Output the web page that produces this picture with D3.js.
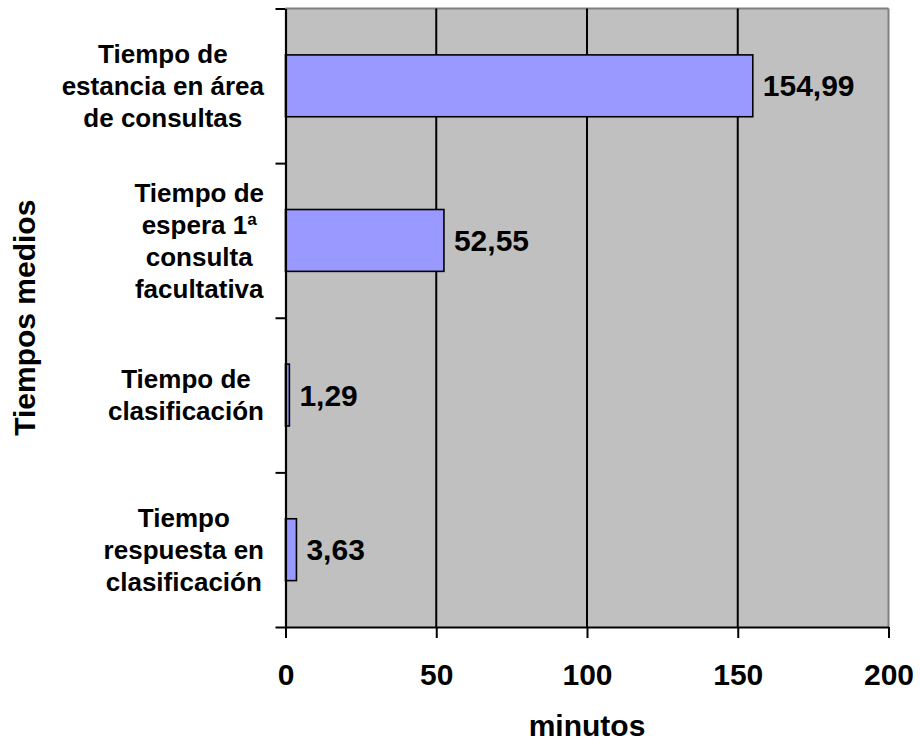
<!DOCTYPE html>
<html>
<head>
<meta charset="utf-8">
<script src="https://cdnjs.cloudflare.com/ajax/libs/d3/7.8.5/d3.min.js"></script>
<style>
  html, body { margin: 0; padding: 0; background: #fff; }
  svg { display: block; }
  text { font-family: "Liberation Sans", Arial, sans-serif; font-weight: bold; fill: #000; }
</style>
</head>
<body>
<svg id="chart" width="920" height="749"></svg>
<script>
// ---- data ----
const categories = [
  ["Tiempo de", "estancia en área", "de consultas"],
  ["Tiempo de", "espera 1ª", "consulta", "facultativa"],
  ["Tiempo de", "clasificación"],
  ["Tiempo", "respuesta en", "clasificación"]
];
const values = [154.99, 52.55, 1.29, 3.63];
const xTicks = [0, 50, 100, 150, 200];
const xTitle = "minutos";
const yTitle = "Tiempos medios";

// ---- layout ----
const pL = 285.5, pR = 888.5, pT = 8.5, pB = 627;
const svg = d3.select("#chart");

const x = d3.scaleLinear().domain([0, 200]).range([pL, pR]);
const idx = d3.range(categories.length);
const y = d3.scaleBand().domain(idx).range([pT, pB]).paddingInner(0.6).paddingOuter(0.3);
const yB = d3.scaleLinear().domain([0, categories.length]).range([pT, pB]);

const esLocale = d3.formatLocale({decimal: ",", thousands: ".", grouping: [3], currency: ["", " €"]});
const fmt = esLocale.format(".2f");

// plot background
svg.append("rect")
  .attr("x", pL).attr("y", pT)
  .attr("width", pR - pL).attr("height", pB - pT)
  .attr("fill", "#C0C0C0");

// top & right gray border
svg.append("line").attr("x1", pL).attr("x2", pR).attr("y1", pT).attr("y2", pT)
  .attr("stroke", "#808080").attr("stroke-width", 2);
svg.append("line").attr("x1", pR).attr("x2", pR).attr("y1", pT).attr("y2", pB)
  .attr("stroke", "#808080").attr("stroke-width", 2);

// gridlines
svg.append("g").selectAll("line")
  .data(xTicks.filter(t => t > 0 && t < 200))
  .join("line")
  .attr("x1", d => x(d)).attr("x2", d => x(d))
  .attr("y1", pT).attr("y2", pB)
  .attr("stroke", "#000").attr("stroke-width", 2);

// bars
svg.append("g").selectAll("rect")
  .data(values)
  .join("rect")
  .attr("x", x(0))
  .attr("y", (d, i) => y(i))
  .attr("width", d => x(d) - x(0))
  .attr("height", y.bandwidth())
  .attr("fill", "#9999FF")
  .attr("stroke", "#000")
  .attr("stroke-width", 1.6);

// value labels
svg.append("g").selectAll("text")
  .data(values)
  .join("text")
  .attr("x", d => x(d) + 10)
  .attr("y", (d, i) => y(i) + y.bandwidth() / 2)
  .attr("dy", "0.35em")
  .attr("font-size", 30)
  .text(d => fmt(d));

// x axis
const xAxis = svg.append("g")
  .attr("transform", `translate(0,${pB})`)
  .call(d3.axisBottom(x).tickValues(xTicks).tickSize(11).tickPadding(26).tickSizeOuter(0));
xAxis.select(".domain").attr("stroke", "#000").attr("stroke-width", 2.2);
xAxis.selectAll(".tick line").attr("stroke", "#000").attr("stroke-width", 2);
xAxis.selectAll(".tick text").attr("font-size", 30)
  .attr("font-family", "Liberation Sans, Arial, sans-serif").attr("font-weight", "bold").attr("fill", "#000");

// y axis (category boundaries)
const yAxis = svg.append("g")
  .attr("transform", `translate(${pL},0)`)
  .call(d3.axisLeft(yB).tickValues(d3.range(categories.length + 1)).tickSize(10).tickFormat("").tickSizeOuter(0));
yAxis.select(".domain").attr("stroke", "#000").attr("stroke-width", 2.2);
yAxis.selectAll(".tick line").attr("stroke", "#000").attr("stroke-width", 2);

// category labels (multi-line, block right-aligned, lines centered)
const lineH = 32;
const blockRight = 264;
categories.forEach((lines, i) => {
  const g = svg.append("g");
  const cy = y(i) + y.bandwidth() / 2;
  const n = lines.length;
  const texts = g.selectAll("text")
    .data(lines)
    .join("text")
    .attr("font-size", 26)
    .attr("text-anchor", "middle")
    .attr("y", (d, j) => cy + (j - (n - 1) / 2) * lineH)
    .attr("dy", "0.35em")
    .text(d => d);
  let maxW = 0;
  texts.each(function() { maxW = Math.max(maxW, this.getComputedTextLength()); });
  texts.attr("x", blockRight - maxW / 2);
});

// axis titles
svg.append("text")
  .attr("x", (pL + pR) / 2)
  .attr("y", 736)
  .attr("text-anchor", "middle")
  .attr("font-size", 30)
  .text(xTitle);

svg.append("text")
  .attr("transform", `translate(35,${(pT + pB) / 2}) rotate(-90)`)
  .attr("text-anchor", "middle")
  .attr("font-size", 30)
  .text(yTitle);
</script>
</body>
</html>
